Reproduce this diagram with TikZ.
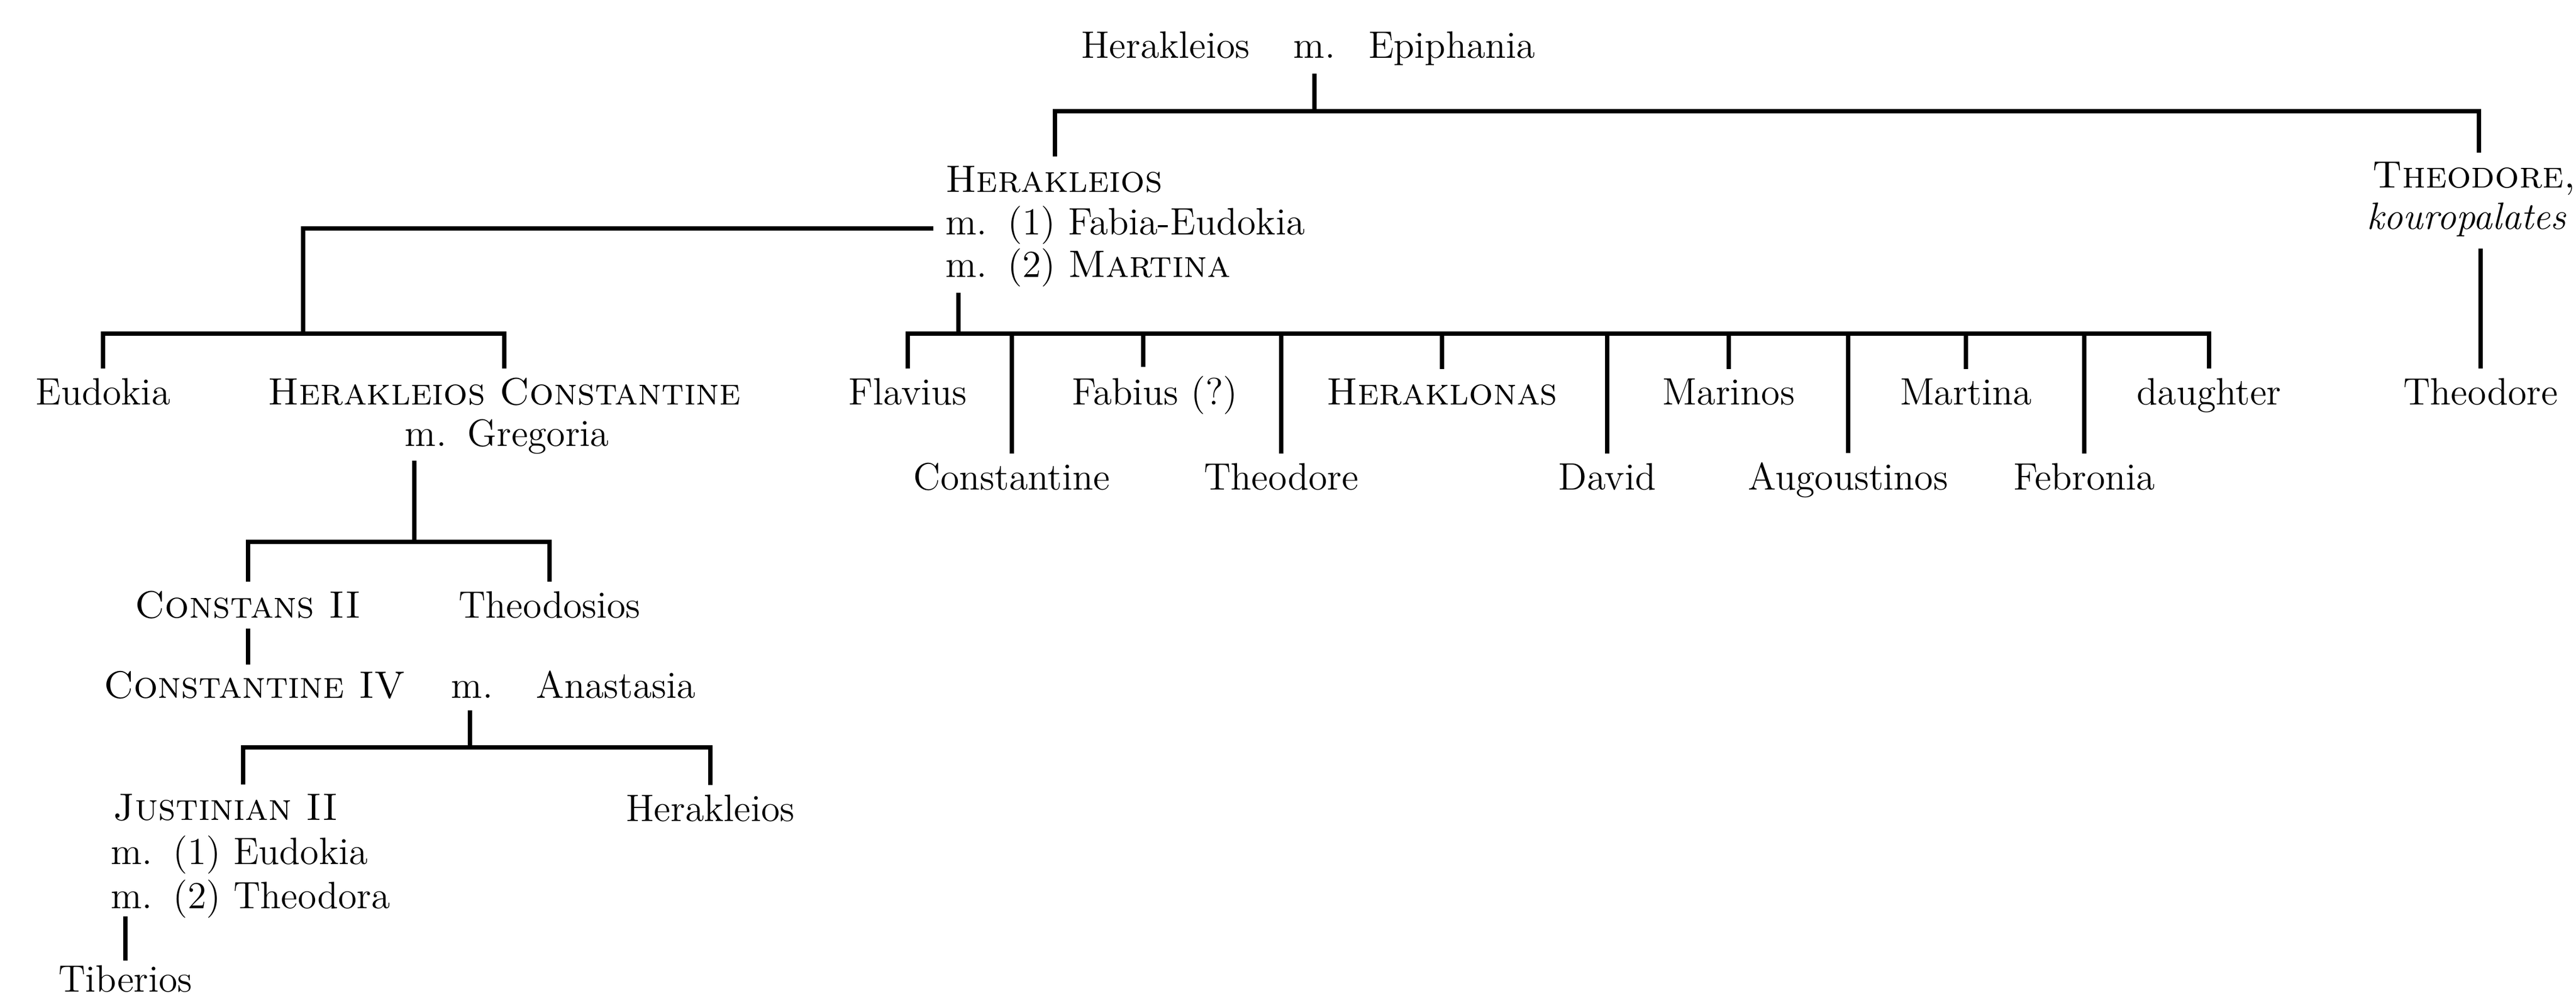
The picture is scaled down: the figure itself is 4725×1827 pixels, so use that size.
\documentclass[tikz,border=0pt]{standalone}
\usepackage{fontspec}
\usetikzlibrary{calc}
\tikzset{
  lbl/.style={inner sep=0pt, anchor=base, font=\fontsize{14}{16.8}\selectfont},
  lblw/.style={lbl, anchor=base west},
  tie/.style={line width=1.45pt, line join=miter},
}
\newcommand{\mgap}{\hspace{0.55em}}
\begin{document}
\begin{tikzpicture}[x=0.2pt,y=-0.2pt]
\useasboundingbox (0,0) rectangle (4725,1827);
% ---------- generation 0
\node[lbl] (h0) at (2138,106) {Herakleios};
\node[lbl] (m0) at (2411,106) {m.};
\node[lbl] (e0) at (2663,106) {Epiphania};
% ---------- generation 1
\node[lblw] (hA) at (1733,352) {\textsc{Herakleios}};
\node[lblw] (hB) at (1733,430) {m.\mgap(1) Fabia-Eudokia};
\node[lblw] (hC) at (1733,508) {m.\mgap(2) \textsc{Martina}};
\node[lbl] (th) at (4538,344) {\textsc{Theodore,}};
\node[lbl, anchor=base east] (ku) at (4708,420) {\textit{kouropalates}};
% ---------- generation 2
\node[lbl] (tho) at (4550,742) {Theodore};
\node[lbl] (eud) at (189,742) {Eudokia};
\node[lbl] (hc) at (925,742) {\textsc{Herakleios Constantine}};
\node[lbl] (gre) at (930,818) {m.\mgap Gregoria};
\node[lbl] (fla) at (1665,742) {Flavius};
\node[lbl] (fab) at (2118,742) {Fabius (?)};
\node[lbl] (hkl) at (2645,742) {\textsc{Heraklonas}};
\node[lbl] (mrn) at (3171,742) {Marinos};
\node[lbl] (mtn) at (3606,742) {Martina};
\node[lbl] (dau) at (4052,742) {daughter};
\node[lbl] (cst) at (1856,898) {Constantine};
\node[lbl] (thd) at (2350,898) {Theodore};
\node[lbl] (dav) at (2948,898) {David};
\node[lbl] (aug) at (3390,898) {Augoustinos};
\node[lbl] (feb) at (3823,898) {Febronia};
% ---------- generation 3
\node[lbl] (cs) at (455,1133) {\textsc{Constans II}};
\node[lbl] (tds) at (1008,1133) {Theodosios};
\node[lbl] (c4) at (467,1280) {\textsc{Constantine IV}};
\node[lbl] (m1) at (866,1280) {m.};
\node[lbl] (ana) at (1130,1280) {Anastasia};
% ---------- generation 4
\node[lblw] (jA) at (207,1504) {\textsc{Justinian II}};
\node[lblw] (jB) at (202,1585) {m.\mgap(1) Eudokia};
\node[lblw] (jC) at (202,1666) {m.\mgap(2) Theodora};
\node[lbl] (hk2) at (1303,1506) {Herakleios};
\node[lbl] (tib) at (230,1819) {Tiberios};

% ---------- connectors
\coordinate (aL) at (1935,204);
\coordinate (aR) at (4547,204);
\draw[tie] ($(m0.base)+(0,29)$) -- (m0.base |- aL);
\draw[tie] ($(hA.north -| aL)+(0,-16)$) -- (aL) -- (aR) -- ($(th.north -| aR)+(0,-16)$);

\draw[tie] ($(ku.base -| tho)+(0,36)$) -- ($(tho.north)+(0,-16)$);

% Herakleios + Fabia-Eudokia
\coordinate (kC) at (556,419);
\coordinate (bC) at (556,612);
\draw[tie] ($(hB.base west)+(-21,-11)$) -- (kC) -- (bC);
\draw[tie] ($(eud.north)+(0,-16)$) -- (eud.north |- bC) -- (hc.north |- bC) -- ($(hc.north)+(0,-16)$);

% Herakleios + Martina
\coordinate (bB) at (1758,612);
\draw[tie] ($(hC.base west)+(25,29)$) -- (bB);
\draw[tie] ($(fla.north)+(0,-16)$) -- (fla.north |- bB) -- (dau.north |- bB) -- ($(dau.north)+(0,-16)$);
\coordinate (fabx) at (2097,612);
\draw[tie] (fabx) -- ($(fab.north -| fabx)+(0,-16)$);
\foreach \c in {cst,thd,hkl,dav,mrn,aug,mtn,feb}
  \draw[tie] (\c.north |- bB) -- ($(\c.north)+(0,-16)$);

% Herakleios Constantine + Gregoria
\coordinate (bD) at (760,994);
\draw[tie] ($(gre.base -| bD)+(0,27)$) -- (bD);
\draw[tie] ($(cs.north)+(0,-16)$) -- (cs.north |- bD) -- (tds.north |- bD) -- ($(tds.north)+(0,-16)$);

% Constans II -> Constantine IV
\draw[tie] ($(cs.base)+(0,20)$) -- ($(c4.north -| cs)+(0,-11)$);

% Constantine IV + Anastasia
\coordinate (bE) at (862,1371);
\coordinate (jx) at (446,1371);
\draw[tie] ($(m1.base -| bE)+(0,23)$) -- (bE);
\draw[tie] ($(jA.north -| jx)+(0,-16)$) -- (jx) -- (hk2.north |- jx) -- ($(hk2.north)+(0,-16)$);

% Justinian II -> Tiberios
\draw[tie] ($(jC.base west -| tib)+(0,15)$) -- ($(tib.north)+(0,-7)$);
\end{tikzpicture}
\end{document}
